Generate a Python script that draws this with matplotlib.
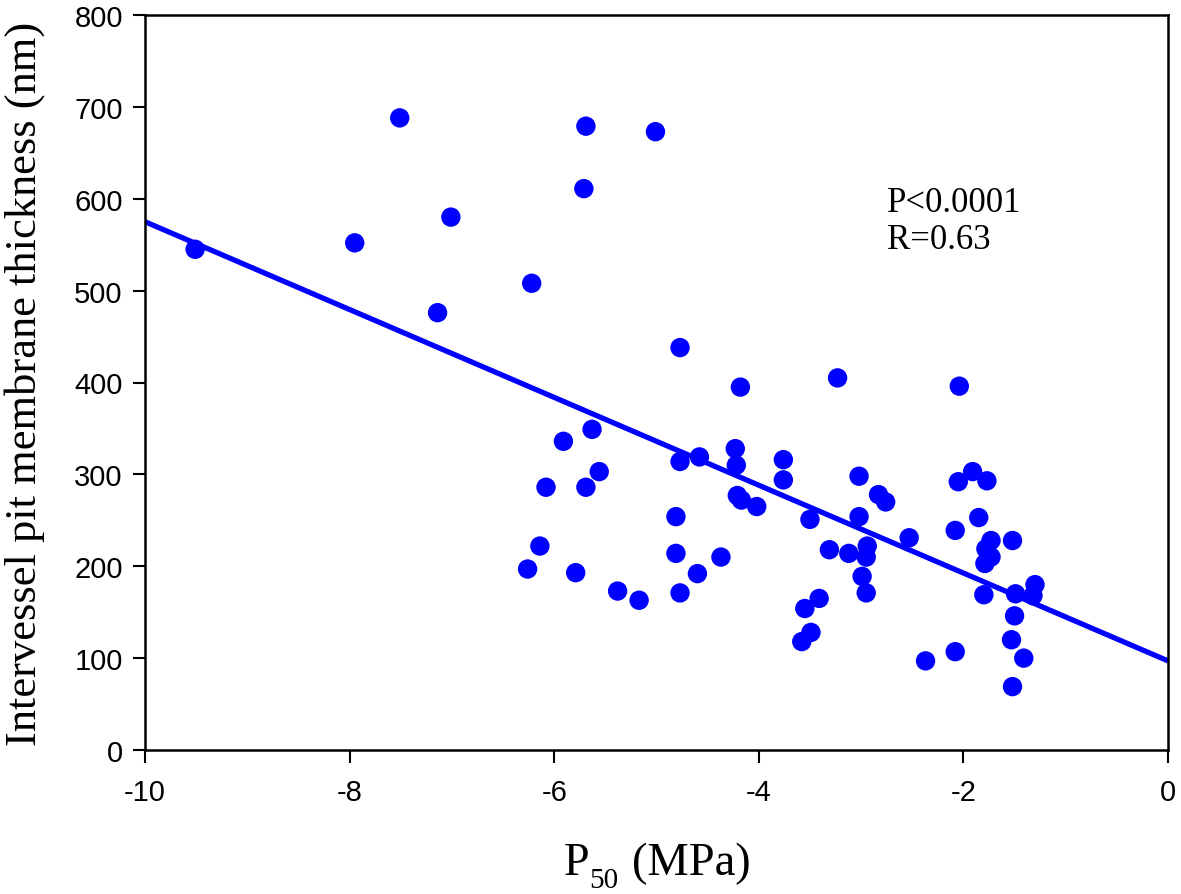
import matplotlib
matplotlib.use("Agg")
import matplotlib.pyplot as plt
import numpy as np

# Data
p50 = [-9.51, -7.95, -7.51, -7.14, -7.01, -6.22, -5.69, -5.71, -5.01,
       -6.26, -6.14, -6.08, -5.91, -5.63, -5.69, -5.56, -5.79, -5.38, -5.17,
       -4.77, -4.77, -4.58, -4.81, -4.81, -4.77, -4.60, -4.37, -4.18, -3.23,
       -4.23, -4.22, -3.76, -3.76, -3.02, -2.83, -2.76, -4.21, -4.17, -4.02,
       -3.50, -3.02, -2.94, -2.95, -3.31, -3.12, -2.99, -2.95, -3.41, -3.55,
       -3.49, -3.58, -2.04, -2.05, -1.91, -1.77, -2.53, -2.08, -1.85, -1.73,
       -1.78, -1.73, -1.79, -1.52, -1.80, -1.49, -1.30, -1.32, -1.50, -1.53,
       -1.41, -1.52, -2.37, -2.08]
thickness = [545, 552, 688, 476, 580, 508, 679, 611, 673,
             197, 222, 286, 336, 349, 286, 303, 193, 173, 163,
             438, 314, 319, 254, 214, 171, 192, 210, 395, 405,
             328, 310, 316, 294, 298, 278, 270, 277, 272, 265,
             251, 254, 222, 210, 218, 214, 189, 171, 165, 154,
             128, 118, 396, 292, 303, 293, 231, 239, 253, 228,
             219, 210, 203, 228, 169, 170, 180, 168, 146, 120,
             100, 69, 97, 107]

fit_intercept = 97.0
fit_slope = -47.8
fit_x = [-10, 0]

x_ticks = [-10, -8, -6, -4, -2, 0]
y_ticks = [0, 100, 200, 300, 400, 500, 600, 700, 800]

plt.rcParams['font.family'] = ['Liberation Sans', 'DejaVu Sans']

W, H = 1181, 895
fig = plt.figure(figsize=(W/100, H/100), dpi=100)
ax = fig.add_axes([145/W, 1-751/H, (1168-145)/W, (751-16)/H])

fx = np.array(fit_x, dtype=float)
ax.plot(fx, fit_intercept + fit_slope*fx, color='#0000ff', lw=3.8,
        solid_capstyle='butt', zorder=2)
ax.scatter(p50, thickness, s=195, color='#0000ff', edgecolors='none', zorder=3)

ax.set_xlim(-10, 0)
ax.set_ylim(0, 800)
ax.set_xticks(x_ticks)
ax.set_yticks(y_ticks)
ax.set_xticklabels([str(v) for v in x_ticks])
ax.set_yticklabels([str(v) for v in y_ticks])
ax.tick_params(axis='both', direction='out', length=9, width=1.5, color='black',
               labelsize=21)
ax.tick_params(axis='x', pad=11)
ax.tick_params(axis='y', pad=7)
for sp in ax.spines.values():
    sp.set_linewidth(1.8)

# x label composed as P + subscript 50 + (MPa)
serif = 'Liberation Serif'
fig.text(564/W, 1-875/H, 'P', family=serif, fontsize=33, va='baseline', ha='left')
fig.text(589/W, 1-888/H, '50', family=serif, fontsize=21, va='baseline', ha='left')
fig.text(632/W, 1-875/H, '(MPa)', family=serif, fontsize=33.5, va='baseline', ha='left')

ax.set_ylabel('Intervessel pit membrane thickness (nm)', family=serif, fontsize=32)
ax.yaxis.set_label_coords(-0.098, 0.5)

ax.text(-2.75, 587, 'P<0.0001', family=serif, fontsize=25, va='baseline', ha='left')
ax.text(-2.75, 546, 'R=0.63', family=serif, fontsize=25, va='baseline', ha='left')

fig.savefig('out.png', dpi=100)
